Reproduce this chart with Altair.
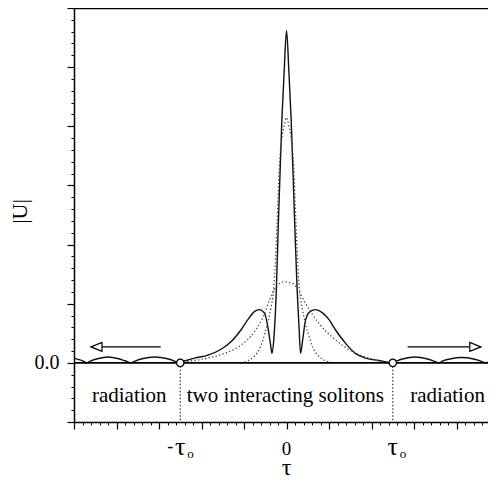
import altair as alt
import pandas as pd

TAU0 = 2.5

# solid curve |U|
solid_t = [-5.0, -4.9, -4.8, -4.7, -4.6, -4.45, -4.2, -3.95, -3.8, -3.65, -3.55, -3.4, -3.1, -2.8, -2.65, -2.55,
           -2.45, -2.16, -1.85, -1.54, -1.30, -1.07, -0.91, -0.75, -0.64, -0.52, -0.44, -0.38, -0.34, -0.30,
           -0.24, -0.19, -0.11, -0.055, 0.0, 0.055, 0.11, 0.19, 0.25, 0.29, 0.33, 0.38, 0.45, 0.56, 0.68, 0.84,
           1.0, 1.15, 1.39, 1.62, 1.86, 2.17, 2.5, 2.6, 2.75, 3.02, 3.3, 3.45, 3.58, 3.68, 3.85, 4.12, 4.4, 4.57,
           4.69, 4.74]
solid_v = [0.08, 0.06, 0.035, 0.0, 0.035, 0.07, 0.10, 0.07, 0.035, 0.0, 0.035, 0.07, 0.10, 0.07, 0.035, 0.0,
           0.02, 0.08, 0.13, 0.23, 0.36, 0.56, 0.73, 0.87, 0.90, 0.84, 0.61, 0.33, 0.16, 0.39,
           1.23, 2.41, 4.10, 4.94, 5.62, 4.94, 4.10, 2.41, 1.23, 0.67, 0.16, 0.39, 0.73, 0.87, 0.90, 0.85,
           0.73, 0.56, 0.33, 0.16, 0.08, 0.04, 0.0, 0.035, 0.07, 0.10, 0.07, 0.035, 0.0, 0.035, 0.065, 0.09, 0.065, 0.03,
           0.0, 0.015]

# broad dotted pulse
broad_t = [-2.42, -1.85, -1.46, -1.07, -0.75, -0.55, -0.40, -0.24, -0.05, 0.15, 0.30, 0.45, 0.76, 1.15, 1.55, 1.94, 2.25, 2.45]
broad_v = [0.02, 0.08, 0.16, 0.30, 0.53, 0.78, 1.06, 1.29, 1.37, 1.34, 1.20, 1.0, 0.67, 0.39, 0.19, 0.08, 0.02, 0.0]

# narrow dotted pulse
narrow_t = [-1.07, -0.9, -0.76, -0.62, -0.50, -0.44, -0.37, -0.31, -0.27, -0.22, -0.17, -0.11, -0.05, 0.0,
            0.05, 0.11, 0.17, 0.22, 0.27, 0.31, 0.37, 0.44, 0.50, 0.62, 0.76, 0.9, 1.07]
narrow_v = [0.0, 0.04, 0.11, 0.26, 0.52, 0.68, 0.92, 1.2, 1.6, 2.4, 3.3, 3.8, 4.02, 4.15,
            4.02, 3.8, 3.3, 2.4, 1.6, 1.2, 0.92, 0.68, 0.52, 0.26, 0.11, 0.04, 0.0]

region_labels = ["radiation", "two interacting solitons", "radiation"]
region_x = [-3.70, -0.03, 3.79]
region_y = -0.67

arrow_shaft_x = [-4.34, 2.85]
arrow_shaft_x2 = [-2.96, 4.31]
arrow_tip_x = [-4.6, 4.57]
arrow_y = 0.27

x_major = [-5, -4, -3, -2, -1, 0, 1, 2, 3, 4]
x_minor = [round(-5 + 0.2 * i, 1) for i in range(49)]
y_major = [-1, 0, 1, 2, 3, 4, 5, 6]
y_minor = [round(-1 + 0.2 * i, 1) for i in range(36)]

XD = [-5, 4.74]
YD = [-1, 6]
xs = alt.Scale(domain=XD, nice=False, zero=False)
ys = alt.Scale(domain=YD, nice=False, zero=False)
SERIF = "Liberation Serif"

solid_df = pd.DataFrame({"t": solid_t, "v": solid_v})
broad_df = pd.DataFrame({"t": broad_t, "v": broad_v})
narrow_df = pd.DataFrame({"t": narrow_t, "v": narrow_v})

x_major_axis = alt.Axis(orient="bottom", values=x_major, tickSize=7, labels=False, domain=True,
                        domainWidth=1.5, domainColor="black", tickColor="black", tickWidth=1.2,
                        grid=False, title=None)
y_major_axis = alt.Axis(orient="left", values=y_major, tickSize=7, domain=True, domainWidth=1.5,
                        domainColor="black", tickColor="black", tickWidth=1.2, grid=False,
                        labelExpr="datum.value == 0 ? '0.0' : ''", labelFont=SERIF, labelFontSize=20,
                        labelColor="black", labelPadding=8, title="|U|", titleFont=SERIF,
                        titleFontSize=22, titleFontWeight="normal", titleColor="black",
                        titleX=-55, titleY=203, titleAlign="center", titleBaseline="middle")
x_minor_axis = alt.Axis(orient="bottom", values=x_minor, tickSize=3, labels=False, domain=False,
                        tickColor="black", tickWidth=1, grid=False, title=None)
y_minor_axis = alt.Axis(orient="left", values=y_minor, tickSize=3, labels=False, domain=False,
                        tickColor="black", tickWidth=1, grid=False, title=None)
x_top_axis = alt.Axis(orient="top", ticks=False, labels=False, domain=True, domainWidth=1.5,
                      domainColor="black", grid=False, title=None)

solid = alt.Chart(solid_df).mark_line(color="#111", strokeWidth=1.4, interpolate="monotone").encode(
    x=alt.X("t:Q", scale=xs, axis=x_major_axis),
    y=alt.Y("v:Q", scale=ys, axis=y_major_axis),
)
broad = alt.Chart(broad_df).mark_line(color="#444", strokeWidth=1.3, strokeDash=[1.3, 2.3],
                                      interpolate="monotone").encode(
    x=alt.X("t:Q", scale=xs, axis=x_minor_axis),
    y=alt.Y("v:Q", scale=ys, axis=y_minor_axis),
)
narrow = alt.Chart(narrow_df).mark_line(color="#444", strokeWidth=1.3, strokeDash=[1.3, 2.3],
                                        interpolate="monotone").encode(
    x=alt.X("t:Q", scale=xs, axis=x_top_axis),
    y=alt.Y("v:Q", scale=ys, axis=None),
)

zero_df = pd.DataFrame({"x": [XD[0]], "x2": [XD[1]], "y": [0.0]})
zero_line = alt.Chart(zero_df).mark_rule(color="black", strokeWidth=1.6).encode(
    x=alt.X("x:Q", scale=xs, axis=None), x2="x2:Q", y=alt.Y("y:Q", scale=ys, axis=None))

vdf = pd.DataFrame({"x": [-TAU0, TAU0], "y": [0.0, 0.0], "y2": [-1.0, -1.0]})
vlines = alt.Chart(vdf).mark_rule(color="#333", strokeWidth=1.2, strokeDash=[1.3, 2.2]).encode(
    x=alt.X("x:Q", scale=xs, axis=None), y=alt.Y("y:Q", scale=ys, axis=None), y2="y2:Q")

circles = alt.Chart(vdf).mark_point(shape="circle", size=55, filled=True, fill="white", stroke="black",
                                    strokeWidth=1.3, opacity=1).encode(
    x=alt.X("x:Q", scale=xs, axis=None), y=alt.Y("y:Q", scale=ys, axis=None))

shaft_df = pd.DataFrame({"x": arrow_shaft_x, "x2": arrow_shaft_x2, "y": [arrow_y] * 2})
shafts = alt.Chart(shaft_df).mark_rule(color="black", strokeWidth=1.2).encode(
    x=alt.X("x:Q", scale=xs, axis=None), x2="x2:Q", y=alt.Y("y:Q", scale=ys, axis=None))

tipL = alt.Chart(pd.DataFrame({"x": [arrow_tip_x[0]], "y": [arrow_y]})).mark_point(
    shape="M0,0L2,-0.8L2,0.8Z", size=121, filled=False, stroke="black", strokeWidth=1.2, opacity=1).encode(
    x=alt.X("x:Q", scale=xs, axis=None), y=alt.Y("y:Q", scale=ys, axis=None))
tipR = alt.Chart(pd.DataFrame({"x": [arrow_tip_x[1]], "y": [arrow_y]})).mark_point(
    shape="M0,0L-2,-0.8L-2,0.8Z", size=121, filled=False, stroke="black", strokeWidth=1.2, opacity=1).encode(
    x=alt.X("x:Q", scale=xs, axis=None), y=alt.Y("y:Q", scale=ys, axis=None))

reg_df = pd.DataFrame({"x": region_x, "y": [region_y] * 3, "label": region_labels})
regions = alt.Chart(reg_df).mark_text(font=SERIF, fontSize=21, color="black", align="center",
                                      baseline="alphabetic").encode(
    x=alt.X("x:Q", scale=xs, axis=None), y=alt.Y("y:Q", scale=ys, axis=None), text="label:N")

# x tick labels and title
tick_y = -1.55
title_y = -1.89
tau_df = pd.DataFrame({"x": [-TAU0, TAU0], "y": [tick_y] * 2, "label": ["τ", "τ"]})
taus = alt.Chart(tau_df).mark_text(font=SERIF, fontSize=26, color="black", align="center",
                                   baseline="alphabetic").encode(
    x=alt.X("x:Q", scale=xs, axis=None), y=alt.Y("y:Q", scale=ys, axis=None), text="label:N")
subs = alt.Chart(tau_df.assign(label=["o", "o"])).mark_text(font=SERIF, fontSize=13, color="black",
                                                             align="left", baseline="alphabetic",
                                                             dx=7, dy=3).encode(
    x=alt.X("x:Q", scale=xs, axis=None), y=alt.Y("y:Q", scale=ys, axis=None), text="label:N")
minus = alt.Chart(pd.DataFrame({"x": [-TAU0], "y": [tick_y], "label": ["-"]})).mark_text(
    font=SERIF, fontSize=18, color="black", align="center", baseline="alphabetic", dx=-10, dy=-3).encode(
    x=alt.X("x:Q", scale=xs, axis=None), y=alt.Y("y:Q", scale=ys, axis=None), text="label:N")
zero_lab = alt.Chart(pd.DataFrame({"x": [0.0], "y": [tick_y], "label": ["0"]})).mark_text(
    font=SERIF, fontSize=19, color="black", align="center", baseline="alphabetic").encode(
    x=alt.X("x:Q", scale=xs, axis=None), y=alt.Y("y:Q", scale=ys, axis=None), text="label:N")
xtitle = alt.Chart(pd.DataFrame({"x": [0.0], "y": [title_y], "label": ["τ"]})).mark_text(
    font=SERIF, fontSize=24, color="black", align="center", baseline="alphabetic").encode(
    x=alt.X("x:Q", scale=xs, axis=None), y=alt.Y("y:Q", scale=ys, axis=None), text="label:N")

chart = alt.layer(
    solid, broad, narrow, zero_line, vlines, shafts, tipL, tipR, circles, regions,
    taus, subs, minus, zero_lab, xtitle
).resolve_axis(x="independent", y="independent").properties(
    width=414, height=414,
    autosize=alt.AutoSizeParams(type="none"),
    padding={"left": 66, "top": 0, "right": 0, "bottom": 58},
    background="white",
).configure_view(stroke=None)

chart.save("out.html", embed_options={"renderer": "svg", "actions": False})
